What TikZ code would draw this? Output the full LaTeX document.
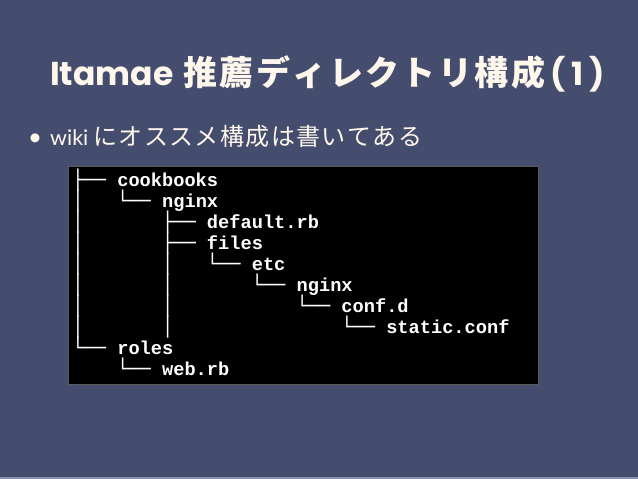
\documentclass[tikz,border=0pt]{standalone}
\usepackage{fontspec}
\newfontfamily\latofont{Lato}
\newfontfamily\popfont{Poppins}
\newfontfamily\cjk{Noto Sans CJK JP}
\newfontfamily\monob{Liberation Mono}
\newfontfamily\boxfont{DejaVu Sans Mono}
\newcommand\bx[1]{{\boxfont\mdseries #1}}
% tracking: \trk{amount}{characters}
\newcommand\trk[2]{\def\trkamt{#1}\trkloop#2\relax}
\def\trkloop#1{\ifx#1\relax\else#1\kern\trkamt\expandafter\trkloop\fi}
\definecolor{slidebg}{HTML}{454D6E}
\definecolor{slideedge}{HTML}{8A92B2}
\definecolor{titlecol}{HTML}{FFF7EC}
\definecolor{termedge}{HTML}{5A5A5A}
\tikzset{
  txt/.style={inner sep=0pt, anchor=base west, text=titlecol},
  tl/.style={inner sep=0pt, anchor=base west, text=white, font=\monob\bfseries\fontsize{18.67}{21}\selectfont},
}
\begin{document}
\begin{tikzpicture}[x=1pt,y=-1pt]
\useasboundingbox (0,0) rectangle (638,479);
\fill[slidebg] (0,0) rectangle (638,479);
\fill[slideedge] (0,477) rectangle (638,479);
% title
\node[txt] (title) at (50,85)
  {{\popfont\bfseries\fontsize{33}{38}\selectfont Itamae}\hspace*{10pt}{\cjk\bfseries\fontsize{34}{40}\selectfont\trk{2.4pt}{推薦ディレクトリ構成}}\hspace*{3pt}{\popfont\bfseries\fontsize{32}{38}\selectfont\trk{6pt}{(1)}}};
% bullet
\node[txt, font=\fontsize{24}{28}\selectfont] (bullet) at (28,145) {\latofont •};
\node[txt] (item) at (50,145)
  {{\latofont\fontsize{21.5}{26}\selectfont wiki}\hspace*{5pt}{\cjk\fontsize{24}{29}\selectfont\trk{1.4pt}{にオススメ構成は書いてある}}};
% terminal box
\node[draw=termedge, line width=0.8pt, fill=black, inner sep=0pt, minimum width=470pt, minimum height=217.5pt, anchor=north west] (term) at (67.5,166) {};
% tree lines
\node[tl] (l1) at (72.2,186.0) {\bx{├──}~cookbooks};
\node[tl] (l2) at (72.2,207.1) {\bx{│}~~~\bx{└──}~nginx};
\node[tl] (l3) at (72.2,228.2) {\bx{│}~~~~~~~\bx{├──}~default.rb};
\node[tl] (l4) at (72.2,249.3) {\bx{│}~~~~~~~\bx{├──}~files};
\node[tl] (l5) at (72.2,270.4) {\bx{│}~~~~~~~\bx{│}~~~\bx{└──}~etc};
\node[tl] (l6) at (72.2,291.5) {\bx{│}~~~~~~~\bx{│}~~~~~~~\bx{└──}~nginx};
\node[tl] (l7) at (72.2,312.6) {\bx{│}~~~~~~~\bx{│}~~~~~~~~~~~\bx{└──}~conf.d};
\node[tl] (l8) at (72.2,333.7) {\bx{│}~~~~~~~\bx{│}~~~~~~~~~~~~~~~\bx{└──}~static.conf};
\node[tl] (l9) at (72.2,354.8) {\bx{└──}~roles};
\node[tl] (l10) at (72.2,375.9) {~~~~\bx{└──}~web.rb};
\end{tikzpicture}
\end{document}
